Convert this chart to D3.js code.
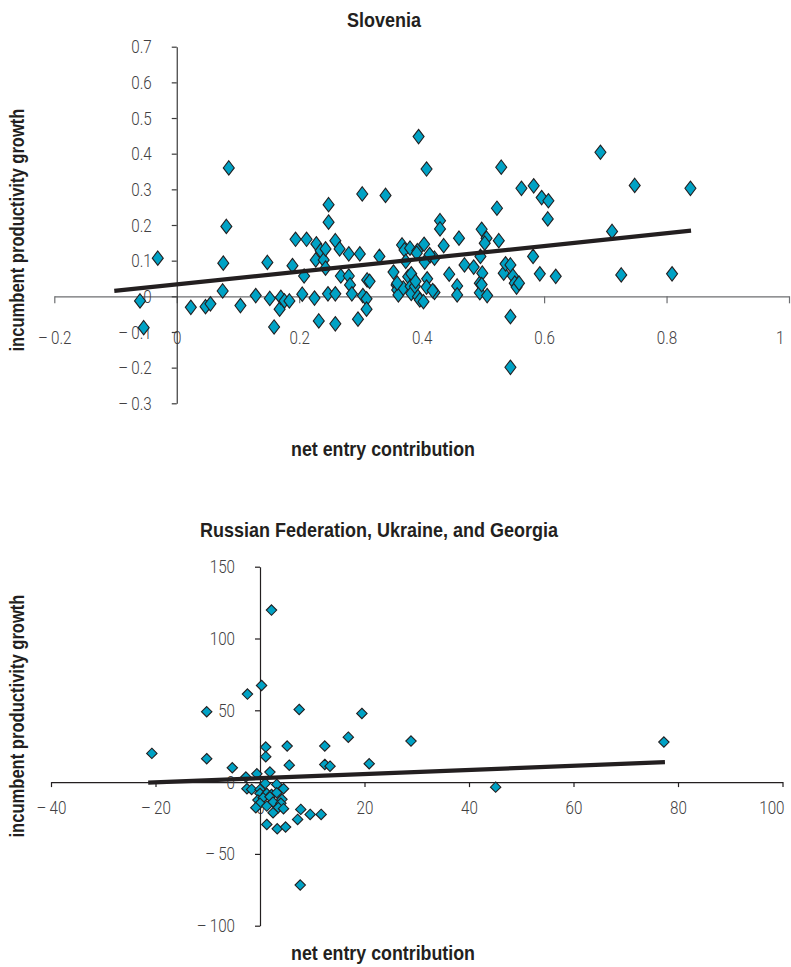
<!DOCTYPE html>
<html>
<head>
<meta charset="utf-8">
<script src="https://cdn.jsdelivr.net/npm/d3@7"></script>
<style>
  body { margin: 0; background: #fff; }
  svg { display: block; }
  .tick text { font-family: Roboto, "Liberation Sans", sans-serif; font-weight: 300; font-size: 19px; fill: #414042; }
  .ttl { font-family: "Liberation Sans", Arial, sans-serif; font-weight: bold; fill: #231f20; }
</style>
</head>
<body>
<svg id="chart" width="791" height="967"></svg>
<script>
// ---------------- DATA ----------------
const sloveniaTitle = "Slovenia";
const sloveniaEntry = [
  -0.060, -0.054, -0.031, 0.023, 0.047, 0.055, 0.075, 0.076, 0.081, 0.085,
  0.104, 0.129, 0.148, 0.152, 0.159, 0.168, 0.170, 0.176, 0.184, 0.189,
  0.194, 0.205, 0.208, 0.212, 0.225, 0.227, 0.228, 0.232, 0.235, 0.240,
  0.243, 0.243, 0.247, 0.248, 0.248, 0.259, 0.259, 0.259, 0.266, 0.268,
  0.281, 0.281, 0.283, 0.286, 0.296, 0.299, 0.303, 0.304, 0.310, 0.310,
  0.311, 0.315, 0.331, 0.341, 0.354, 0.359, 0.360, 0.362, 0.368, 0.372,
  0.370, 0.374, 0.378, 0.381, 0.383, 0.382, 0.383, 0.389, 0.393, 0.394,
  0.397, 0.395, 0.403, 0.404, 0.405, 0.408, 0.409, 0.408, 0.414, 0.421,
  0.421, 0.430, 0.430, 0.436, 0.445, 0.458, 0.458, 0.461, 0.470, 0.485,
  0.495, 0.495, 0.496, 0.498, 0.499, 0.506, 0.503, 0.507, 0.523, 0.526,
  0.530, 0.534, 0.537, 0.545, 0.545, 0.545, 0.549, 0.552, 0.555, 0.559,
  0.563, 0.582, 0.583, 0.593, 0.596, 0.606, 0.607, 0.619, 0.692, 0.711,
  0.726, 0.748, 0.809, 0.839, 0.360, 0.390, 0.418, 0.392, 0.413, 0.498
];
const sloveniaGrowth = [
  -0.013, -0.088, 0.107, -0.031, -0.029, -0.021, 0.015, 0.093, 0.196, 0.360,
  -0.026, 0.002, 0.095, -0.006, -0.086, -0.036, -0.003, -0.013, -0.013, 0.086,
  0.160, 0.006, 0.057, 0.160, -0.005, 0.102, 0.147, -0.069, 0.128, 0.102,
  0.133, 0.079, 0.007, 0.257, 0.208, 0.156, 0.007, -0.077, 0.133, 0.057,
  0.119, 0.057, 0.032, 0.007, -0.064, 0.119, 0.287, 0.002, -0.007, -0.036,
  0.046, 0.042, 0.112, 0.283, 0.068, 0.032, 0.018, 0.004, 0.144, 0.130,
  0.023, 0.098, 0.055, 0.135, 0.063, 0.028, 0.008, 0.028, 0.128, -0.001,
  -0.010, 0.448, -0.015, 0.146, 0.096, 0.357, 0.049, 0.026, 0.114, 0.107,
  0.011, 0.212, 0.189, 0.142, 0.062, 0.029, 0.004, 0.163, 0.088, 0.082,
  0.037, 0.010, 0.112, 0.188, 0.065, 0.163, 0.149, 0.002, 0.247, 0.156,
  0.362, 0.065, 0.091, 0.088, -0.057, -0.199, 0.057, 0.037, 0.026, 0.037,
  0.303, 0.112, 0.310, 0.063, 0.277, 0.217, 0.268, 0.056, 0.404, 0.182,
  0.060, 0.311, 0.063, 0.303, 0.037, 0.042, 0.016, 0.121, 0.117, 0.033
];
const sloveniaTrendX = [-0.102, 0.840];
const sloveniaTrendY = [0.0154, 0.184];
const sloveniaXTicks = [-0.2, 0, 0.2, 0.4, 0.6, 0.8, 1];
const sloveniaXTickLabels = ["\u2013\u20090.2", "0", "0.2", "0.4", "0.6", "0.8", "1"];
const sloveniaYTicks = [0.7, 0.6, 0.5, 0.4, 0.3, 0.2, 0.1, 0, -0.1, -0.2, -0.3];
const sloveniaYTickLabels = ["0.7", "0.6", "0.5", "0.4", "0.3", "0.2", "0.1", "0", "\u2013\u20090.1", "\u2013\u20090.2", "\u2013\u20090.3"];

const russiaTitle = "Russian Federation, Ukraine, and Georgia";
const russiaEntry = [
  2.2, 0.3, -2.4, -10.2, 7.5, 19.5, 16.9, -20.7, -10.2, 1.1,
  1.1, 5.2, 12.4, 5.6, 12.4, 13.4, 20.9, -5.3, 28.9, 77.3,
  45.1, 7.7, -2.7, -0.6, 1.9, 1.0, -2.5, -1.6, 0.0, 3.2,
  4.5, 0.0, 1.3, 2.2, 3.2, -0.4, 0.6, 1.9, 4.2, 0.0,
  2.5, 4.0, -0.8, 1.3, 3.5, 4.5, 2.5, 7.8, 7.2, 9.6,
  11.7, 1.3, 3.3, 4.9
];
const russiaGrowth = [
  119.8, 67.3, 61.3, 49.0, 50.6, 47.8, 31.3, 20.0, 16.3, 24.4,
  17.7, 25.1, 25.1, 11.8, 12.3, 11.1, 12.8, 10.0, 28.6, 27.9,
  -3.5, -71.7, 3.5, 5.8, 7.0, -0.9, -4.6, -5.1, -5.1, -1.6,
  -4.6, -7.9, -7.9, -8.6, -7.4, -12.5, -10.9, -10.2, -12.0, -14.8,
  -13.9, -14.8, -17.8, -16.7, -17.8, -18.5, -21.3, -19.0, -26.0, -22.5,
  -22.5, -29.5, -32.5, -31.3
];
const russiaTrendX = [-21.4, 77.5];
const russiaTrendY = [-0.4, 13.9];
const russiaXTicks = [-40, -20, 0, 20, 40, 60, 80, 100];
const russiaXTickLabels = ["\u2013\u200940", "\u2013\u200920", "0", "20", "40", "60", "80", "100"];
const russiaYTicks = [150, 100, 50, 0, -50, -100];
const russiaYTickLabels = ["150", "100", "50", "0", "\u2013\u200950", "\u2013\u2009100"];

const xAxisTitle = "net entry contribution";
const yAxisTitle = "incumbent productivity growth";

// ---------------- DRAW ----------------
const svg = d3.select("#chart");
const FILL = "#00a2c5";
const INK = "#231f20";
const RIGHT_EDGE = 784;

function condense(sel, f) {
  sel.each(function () {
    const L = this.getComputedTextLength();
    d3.select(this).attr("textLength", L * f).attr("lengthAdjust", "spacingAndGlyphs");
  });
}

function fitText(sel, len) {
  sel.attr("textLength", len).attr("lengthAdjust", "spacingAndGlyphs");
}

function panel(o) {
  const g = svg.append("g");
  const x = d3.scaleLinear().domain(o.xDomain).range(o.xRange);
  const y = d3.scaleLinear().domain(o.yDomain).range(o.yRange);

  // x axis at y = 0
  const xa = g.append("g")
    .attr("transform", `translate(0,${y(0)})`)
    .call(d3.axisBottom(x).tickValues(o.xTicks)
      .tickFormat((d, i) => o.xLabels[i])
      .tickSize(o.xTickSize).tickSizeOuter(0).tickPadding(o.xPad));
  xa.select(".domain").attr("stroke", o.xAxisColor).attr("stroke-width", 1.2);
  xa.selectAll(".tick line").attr("stroke", o.xAxisColor).attr("stroke-width", 1.2);
  const xt = xa.selectAll(".tick text").attr("font-family", null).attr("font-size", null);
  condense(xt, 0.8);
  // keep the right-most label inside the page
  xa.selectAll(".tick").each(function (d) {
    const t = d3.select(this).select("text");
    const w = +t.attr("textLength");
    const right = x(d) + w / 2;
    if (right > RIGHT_EDGE) {
      t.attr("text-anchor", "end").attr("x", RIGHT_EDGE - x(d));
    }
  });

  // y axis at x = 0
  const ya = g.append("g")
    .attr("transform", `translate(${x(0)},0)`)
    .call(d3.axisLeft(y).tickValues(o.yTicks)
      .tickFormat((d, i) => o.yLabels[i])
      .tickSize(o.yTickSize).tickSizeOuter(0).tickPadding(o.yPad));
  ya.select(".domain").attr("stroke", o.yAxisColor).attr("stroke-width", 1.2);
  ya.selectAll(".tick line").attr("stroke", o.yAxisColor).attr("stroke-width", 1.2);
  const yt = ya.selectAll(".tick text").attr("font-family", null).attr("font-size", null);
  condense(yt, 0.8);

  // points
  const w = o.dw, h = o.dh;
  const diamond = `M0,${-h}L${w},0L0,${h}L${-w},0Z`;
  g.append("g").selectAll("path")
    .data(o.xs.map((v, i) => [v, o.ys[i]]))
    .join("path")
    .attr("d", diamond)
    .attr("transform", d => `translate(${x(d[0])},${y(d[1])})`)
    .attr("fill", FILL)
    .attr("stroke", INK)
    .attr("stroke-width", 1.1);

  // trend line
  const line = d3.line().x(d => x(d[0])).y(d => y(d[1]));
  g.append("path")
    .datum(o.tx.map((v, i) => [v, o.ty[i]]))
    .attr("d", line)
    .attr("fill", "none")
    .attr("stroke", INK)
    .attr("stroke-width", 4.2);

  // titles
  g.append("text").attr("class", "ttl")
    .attr("x", o.titleX).attr("y", o.titleY)
    .attr("text-anchor", "middle").attr("font-size", 21)
    .text(o.title)
    .call(fitText, o.titleLen);
  g.append("text").attr("class", "ttl")
    .attr("x", o.xTitleX).attr("y", o.xTitleY)
    .attr("text-anchor", "middle").attr("font-size", 20.5)
    .text(xAxisTitle)
    .call(fitText, 184);
  g.append("text").attr("class", "ttl")
    .attr("transform", `translate(24,${o.yTitleY}) rotate(-90)`)
    .attr("text-anchor", "middle").attr("font-size", 20.5)
    .text(yAxisTitle)
    .call(fitText, 243);
}

panel({
  xs: sloveniaEntry, ys: sloveniaGrowth, tx: sloveniaTrendX, ty: sloveniaTrendY,
  xDomain: [-0.2, 1], xRange: [54.3, 789],
  yDomain: [-0.3, 0.7], yRange: [403.3, 46.7],
  xTicks: sloveniaXTicks, xLabels: sloveniaXTickLabels,
  yTicks: sloveniaYTicks, yLabels: sloveniaYTickLabels,
  xTickSize: 7, xPad: 27, yTickSize: 5, yPad: 20,
  xAxisColor: "#6d6e71", yAxisColor: "#3a3a3a",
  dw: 5.5, dh: 7.2,
  title: sloveniaTitle, titleLen: 74, titleX: 384, titleY: 27,
  xTitleX: 383, xTitleY: 456, yTitleY: 230
});

panel({
  xs: russiaEntry, ys: russiaGrowth, tx: russiaTrendX, ty: russiaTrendY,
  xDomain: [-40, 100], xRange: [51, 782.5],
  yDomain: [-100, 150], yRange: [925.7, 566.7],
  xTicks: russiaXTicks, xLabels: russiaXTickLabels,
  yTicks: russiaYTicks, yLabels: russiaYTickLabels,
  xTickSize: 5, xPad: 13, yTickSize: 5, yPad: 20,
  xAxisColor: "#231f20", yAxisColor: "#231f20",
  dw: 5.2, dh: 5.2,
  title: russiaTitle, titleLen: 358, titleX: 379, titleY: 537,
  xTitleX: 383, xTitleY: 960, yTitleY: 716
});
</script>
</body>
</html>
